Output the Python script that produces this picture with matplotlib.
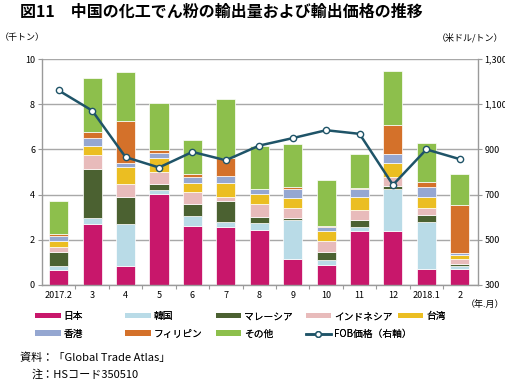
import numpy as np
import matplotlib
matplotlib.use("Agg")
import matplotlib.pyplot as plt
from matplotlib.lines import Line2D
from matplotlib.patches import Patch

plt.rcParams["font.family"] = ["Noto Sans CJK JP", "DejaVu Sans"]

months = ["2017.2", "3", "4", "5", "6", "7", "8", "9", "10", "11", "12", "2018.1", "2"]
japan = [0.66, 2.72, 0.84, 4.02, 2.61, 2.56, 2.42, 1.14, 0.90, 2.41, 2.39, 0.69, 0.69]
korea = [0.20, 0.26, 1.85, 0.19, 0.45, 0.25, 0.31, 1.74, 0.21, 0.16, 1.88, 2.09, 0.17]
malaysia = [0.62, 2.16, 1.19, 0.27, 0.51, 0.91, 0.28, 0.10, 0.37, 0.31, 0.13, 0.31, 0.07]
indonesia = [0.22, 0.61, 0.58, 0.53, 0.55, 0.19, 0.58, 0.42, 0.46, 0.44, 0.36, 0.31, 0.22]
taiwan = [0.26, 0.41, 0.78, 0.59, 0.41, 0.61, 0.43, 0.43, 0.45, 0.58, 0.62, 0.50, 0.19]
hongkong = [0.23, 0.35, 0.15, 0.22, 0.23, 0.30, 0.22, 0.44, 0.19, 0.35, 0.43, 0.44, 0.08]
philippines = [0.06, 0.28, 1.89, 0.16, 0.14, 0.79, 0.01, 0.06, 0.05, 0.03, 1.25, 0.21, 2.14]
others = [1.47, 2.38, 2.16, 2.07, 1.53, 2.60, 1.91, 1.89, 2.02, 1.50, 2.39, 1.74, 1.34]
fob_price = [1161, 1072, 866, 820, 889, 852, 917, 950, 985, 969, 743, 900, 857]

series = [
    ("日本", japan, "#C8176B"),
    ("韓国", korea, "#B9DBE7"),
    ("マレーシア", malaysia, "#4B6131"),
    ("インドネシア", indonesia, "#E8BBBB"),
    ("台湾", taiwan, "#EBBE22"),
    ("香港", hongkong, "#95A7D1"),
    ("フィリピン", philippines, "#D4712A"),
    ("その他", others, "#8DBF4C"),
]
line_color = "#1F5468"
gray = "#9A9A9A"

fig = plt.figure(figsize=(5.06, 3.81), dpi=100)
ax = fig.add_axes([0.083, 0.252, 0.862, 0.593])
x = np.arange(len(months))

bottom = np.zeros(len(months))
for name, vals, col in series:
    ax.bar(x, vals, 0.57, bottom=bottom, color=col, edgecolor="white", linewidth=0.5, zorder=2)
    bottom += np.array(vals)

ax.set_ylim(0, 10)
ax.set_yticks([0, 2, 4, 6, 8, 10])
ax.set_xlim(-0.5, 12.55)
ax.set_xticks(x)
ax.set_xticklabels(months)
ax.set_xticks(np.arange(0.5, 12, 1), minor=True)
ax.tick_params(axis="x", which="major", length=0, labelsize=6.5, pad=4)
ax.tick_params(axis="x", which="minor", length=3, color=gray, width=0.8)
ax.tick_params(axis="y", length=3, color=gray, width=0.8, labelsize=6.5, pad=2)
ax.grid(axis="y", color="#A8A8A8", linewidth=1, zorder=0)
ax.set_axisbelow(True)
for s in ["left", "bottom", "right"]:
    ax.spines[s].set_color(gray)
    ax.spines[s].set_linewidth(1)
ax.spines["top"].set_visible(False)

ax2 = ax.twinx()
ax2.plot(x, fob_price, color=line_color, linewidth=1.8, marker="o", markersize=4.5,
         markerfacecolor="white", markeredgecolor=line_color, markeredgewidth=1, zorder=5)
ax2.set_ylim(300, 1300)
ax2.set_yticks([300, 500, 700, 900, 1100, 1300])
ax2.set_yticklabels(["300", "500", "700", "900", "1,100", "1,300"])
ax2.tick_params(axis="y", length=3, color=gray, width=0.8, labelsize=6.5, pad=1.5)
for s in ["left", "bottom", "right", "top"]:
    ax2.spines[s].set_visible(False)

fig.text(0.04, 0.968, "図11　中国の化工でん粉の輸出量および輸出価格の推移",
         fontsize=11.5, fontweight="bold", va="center", ha="left")
fig.text(0.0, 0.902, "（千トン）", fontsize=6.5, va="center", ha="left")
fig.text(0.995, 0.902, "（米ドル/トン）", fontsize=6.5, va="center", ha="right")
fig.text(0.997, 0.200, "（年.月）", fontsize=6.5, va="center", ha="right")

handles = [Patch(facecolor=c, edgecolor="none") for _, _, c in series]
handles.append(Line2D([0], [0], color=line_color, linewidth=1.8, marker="o", markersize=4,
                      markerfacecolor="white", markeredgecolor=line_color))
labels = [n for n, _, _ in series] + ["FOB価格（右軸）"]
col_x = [0.070, 0.248, 0.426, 0.604, 0.786]
for ci in range(5):
    hs = [handles[ci]]
    ls = [labels[ci]]
    if ci + 5 < len(handles):
        hs.append(handles[ci + 5])
        ls.append(labels[ci + 5])
    leg = fig.legend(hs, ls, loc="upper left", bbox_to_anchor=(col_x[ci], 0.183),
                     frameon=False, fontsize=7, handlelength=2.6, handleheight=0.45,
                     handletextpad=0.3, labelspacing=0.75, borderaxespad=0, borderpad=0)
    fig.add_artist(leg)

fig.text(0.04, 0.062, "資料：「Global Trade Atlas」", fontsize=8, va="center", ha="left")
fig.text(0.062, 0.018, "注：HSコード350510", fontsize=8, va="center", ha="left")

fig.savefig("out.png", dpi=100)
